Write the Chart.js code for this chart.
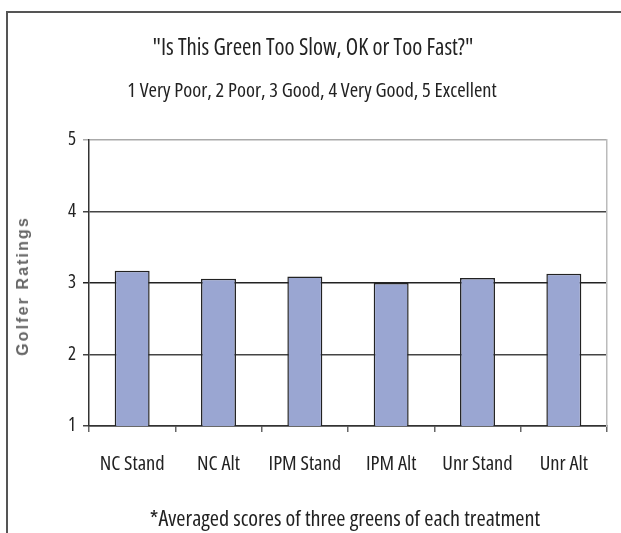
<!DOCTYPE html>
<html>
<head>
<meta charset="utf-8">
<script src="https://cdn.jsdelivr.net/npm/chart.js@4"></script>
<style>
  html, body { margin: 0; padding: 0; background: #fff; }
  #wrap { position: relative; width: 621px; height: 533px; overflow: hidden; }
  #frame { position: absolute; left: 6px; top: 11px; width: 700px; height: 600px;
           border-left: 2px solid #555; border-top: 2px solid #555; }
  canvas { position: absolute; left: 0; top: 0; }
  .txt { position: absolute; white-space: nowrap; color: #222; width: 500px;
         font-family: 'Open Sans', sans-serif; font-stretch: condensed; text-align: center; }
  #title    { left: 63px;  top: 32px;  font-size: 22.8px; line-height: 30px; }
  #subtitle { left: 62px;  top: 75px;  font-size: 20.4px; line-height: 28px; }
  #footnote { left: 95px;  top: 503px; font-size: 22.2px; line-height: 30px; }
  #ytitle   { position: absolute; left: 23px; top: 286px; width: 0; height: 0; }
  #ytitle span { position: absolute; left: 0; top: 0; transform: translate(-50%, -50%) rotate(-90deg);
                 white-space: nowrap; font-family: 'Liberation Sans', Arial, sans-serif;
                 font-weight: bold; font-size: 16px; letter-spacing: 2.1px; color: #666; line-height: 18px; }
</style>
</head>
<body>
<div id="wrap">
  <div id="frame"></div>
  <canvas id="c" width="621" height="533"></canvas>
  <div class="txt" id="title"></div>
  <div class="txt" id="subtitle"></div>
  <div class="txt" id="footnote"></div>
  <div id="ytitle"><span></span></div>
</div>
<script>
const categories = ["NC Stand", "NC Alt", "IPM Stand", "IPM Alt", "Unr Stand", "Unr Alt"];
const ratings = [3.17, 3.06, 3.09, 3.00, 3.07, 3.13];
const yTicks = [1, 2, 3, 4, 5];
const titleText = '"Is This Green Too Slow, OK or Too Fast?"';
const subtitleText = "1 Very Poor, 2 Poor, 3 Good, 4 Very Good, 5 Excellent";
const footnoteText = "*Averaged scores of three greens of each treatment";
const yTitleText = "Golfer Ratings";

document.getElementById('title').textContent = titleText;
document.getElementById('subtitle').textContent = subtitleText;
document.getElementById('footnote').textContent = footnoteText;
document.querySelector('#ytitle span').textContent = yTitleText;

const FONT = "'Open Sans', 'DejaVu Sans Condensed', sans-serif";
const COND = 'condensed';

new Chart(document.getElementById('c'), {
  type: 'bar',
  data: {
    labels: categories,
    datasets: [{
      data: ratings,
      backgroundColor: '#9aa6d2',
      borderColor: '#222',
      borderWidth: 1.5,
      borderSkipped: 'bottom',
      categoryPercentage: 1.0,
      barPercentage: 0.405
    }]
  },
  options: {
    responsive: false,
    animation: false,
    events: [],
    layout: { padding: { top: 140, left: 59, right: 14, bottom: 36.4 } },
    plugins: {
      legend: { display: false },
      tooltip: { enabled: false },
      title: { display: false }
    },
    scales: {
      x: {
        offset: true,
        grid: { display: true, offset: true, drawOnChartArea: false, drawTicks: true,
                tickLength: 6, color: '#666', lineWidth: 1.5 },
        border: { display: true, color: '#333', width: 1.5 },
        ticks: { color: '#222', font: { family: FONT, size: 20.5, weight: COND }, padding: 20, maxRotation: 0 }
      },
      y: {
        min: 1, max: 5,
        afterBuildTicks: (axis) => { axis.ticks = yTicks.map(v => ({ value: v })); },
        afterFit: (axis) => { axis.width = 30; },
        grid: {
          color: (ctx) => ctx.tick && ctx.tick.value === 5 ? '#aaa' : (ctx.tick && ctx.tick.value === 3 ? '#222' : '#444'),
          lineWidth: 1.5, tickLength: 6
        },
        border: { display: true, color: '#333', width: 1.5 },
        ticks: { color: '#222', font: { family: FONT, size: 19, weight: COND }, padding: 7 }
      },
      y2: {
        position: 'right', min: 1, max: 5,
        ticks: { display: false },
        grid: { drawOnChartArea: false, drawTicks: false },
        border: { display: true, color: '#bbb', width: 1.5 }
      }
    }
  }
});
</script>
</body>
</html>
